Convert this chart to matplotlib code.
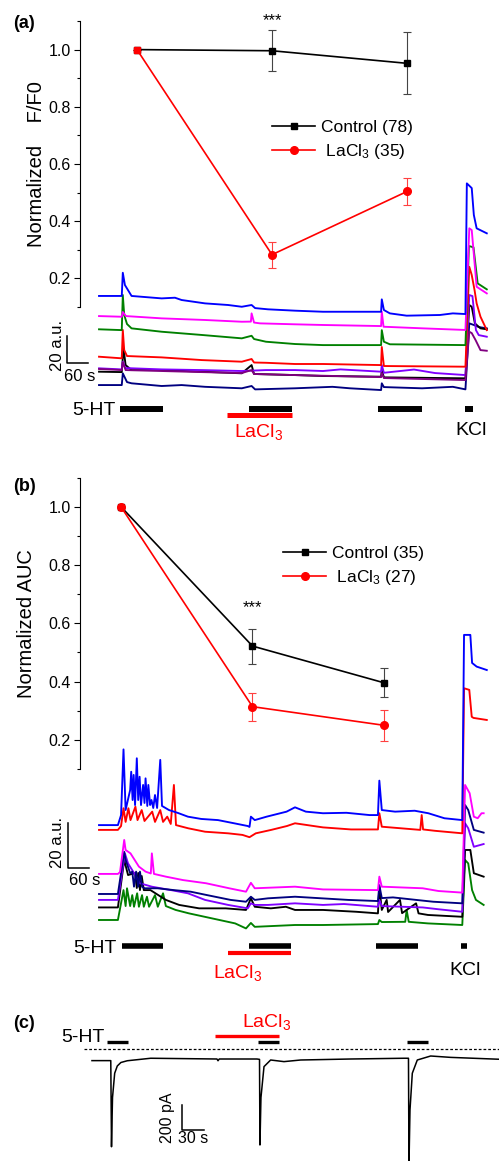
import numpy as np
import matplotlib.pyplot as plt
from matplotlib.ticker import FormatStrFormatter

plt.rcParams['font.family'] = ['Liberation Sans', 'DejaVu Sans']
plt.rcParams['mathtext.fontset'] = 'custom'
plt.rcParams['mathtext.rm'] = 'Liberation Sans'
plt.rcParams['mathtext.default'] = 'regular'

W, H = 499, 1161

# ---- summary data (normalized response for the 3 5-HT applications)
stim = [1, 2, 3]
a_ctrl = [1.0, 0.996, 0.952]
a_ctrl_err = [0, 0.072, 0.108]
a_lacl = [1.0, 0.283, 0.504]
a_lacl_err = [0, 0.045, 0.046]
b_ctrl = [1.0, 0.522, 0.396]
b_ctrl_err = [0, 0.060, 0.050]
b_lacl = [1.0, 0.314, 0.250]
b_lacl_err = [0, 0.048, 0.054]

# ---- example Ca2+ traces (time s, a.u.), panel a
a_blue = [(0, 73.4), (65, 73.4), (68, 90.6), (74, 81.5), (93, 73.4), (179, 71.6), (217, 72.1), (236, 70.4),
          (303, 67.9), (369, 66.7), (408, 65.4), (436, 66.7), (446, 64.4), (483, 63.5), (560, 62.5), (640, 61.7),
          (806, 61.7), (808, 70.9), (814, 63.0), (831, 60.5), (879, 58.8), (974, 59.3), (1011, 60.5), (1047, 60.0),
          (1051, 156.8), (1065, 153.3), (1071, 133.4), (1079, 123.5), (1108, 119.8)]
a_magenta = [(0, 58.5), (65, 58.0), (68, 61.5), (77, 58.5), (179, 56.8), (303, 55.6), (408, 54.3), (434, 54.4),
             (436, 60.5), (443, 53.7), (460, 53.1), (560, 52.4), (640, 51.9), (806, 51.1), (808, 61.7), (813, 50.6),
             (926, 49.4), (1047, 48.2), (1058, 123.5), (1065, 122.2), (1079, 80.2), (1108, 75.3)]
a_green = [(0, 48.7), (65, 48.1), (68, 74.1), (72, 59.3), (80, 52.6), (93, 49.4), (179, 46.9), (294, 44.5),
           (408, 42.0), (436, 43.9), (443, 41.5), (477, 39.5), (560, 37.8), (640, 37.0), (806, 37.0), (808, 48.1),
           (814, 39.5), (831, 37.6), (1047, 37.0), (1057, 110.4), (1070, 109.4), (1082, 82.7), (1108, 78.3)]
a_red = [(0, 28.4), (65, 27.2), (68, 48.2), (72, 33.3), (80, 28.9), (179, 27.9), (294, 25.9), (408, 24.7),
         (436, 26.7), (443, 24.1), (477, 23.9), (560, 23.0), (640, 23.0), (806, 22.2), (808, 35.6), (814, 21.5),
         (1047, 21.0), (1058, 95.0), (1065, 88.9), (1073, 77.8), (1079, 67.9), (1090, 58.0), (1108, 48.1)]
a_violet = [(0, 19.8), (65, 19.0), (68, 24.7), (75, 20.0), (179, 19.0), (294, 18.5), (408, 17.8), (477, 18.5),
            (560, 18.5), (640, 17.8), (690, 19.0), (806, 17.3), (808, 22.2), (814, 16.5), (900, 18.9), (960, 16.3),
            (1047, 14.8), (1058, 74.1), (1067, 73.3), (1077, 48.1), (1085, 44.4), (1108, 43.2)]
a_black = [(0, 17.3), (65, 17.0), (70, 34.6), (76, 22.2), (93, 18.5), (179, 18.5), (294, 17.3), (408, 16.1),
           (436, 22.2), (443, 15.6), (560, 14.8), (640, 14.1), (806, 13.6), (808, 18.5), (814, 13.1), (1047, 12.4),
           (1058, 66.7), (1065, 65.4), (1074, 53.1), (1090, 49.4), (1108, 48.7)]
a_purple = [(0, 19.3), (65, 18.5), (68, 24.4), (76, 18.5), (179, 17.8), (294, 17.0), (408, 16.3), (436, 18.5),
            (443, 15.6), (560, 14.8), (806, 13.3), (808, 16.3), (814, 12.6), (1047, 11.1), (1058, 46.9),
            (1065, 45.9), (1076, 40.7), (1090, 33.3), (1108, 32.8)]
a_navy = [(0, 7.4), (65, 7.4), (68, 16.1), (80, 9.6), (93, 8.7), (179, 6.7), (236, 7.4), (303, 6.1), (408, 5.0),
          (436, 6.7), (446, 4.2), (560, 5.0), (667, 6.1), (717, 5.0), (806, 3.7), (808, 8.7), (814, 5.9),
          (923, 5.0), (1011, 6.1), (1047, 4.2), (1058, 53.1), (1071, 51.9), (1085, 50.4), (1108, 49.4)]

# ---- panel b traces
b_blue = [(0, 48.2), (54, 48.2), (63, 52.6), (70, 81.4), (76, 54.8), (89, 63.6), (92, 71.6), (96, 59.2),
          (99, 70.2), (103, 57.0), (108, 77.5), (112, 59.2), (116, 69.4), (120, 57.0), (126, 65.8), (130, 57.9),
          (133, 68.7), (138, 56.6), (141, 65.8), (146, 57.0), (150, 59.2), (155, 55.7), (160, 61.4), (166, 55.7),
          (175, 76.8), (180, 56.6), (200, 54.8), (226, 53.5), (254, 51.9), (292, 50.9), (340, 50.4), (386, 49.0),
          (425, 47.8), (430, 47.4), (434, 51.9), (445, 50.4), (479, 51.9), (536, 54.1), (560, 56.0), (591, 54.1),
          (640, 53.4), (707, 53.6), (773, 52.6), (797, 52.6), (801, 67.7), (808, 54.8), (846, 54.1), (902, 54.5),
          (941, 53.4), (987, 51.2), (1038, 50.4), (1043, 131.6), (1061, 131.6), (1066, 119.3), (1079, 117.7),
          (1108, 116.2)]
b_red = [(0, 46.1), (54, 46.1), (63, 47.8), (70, 55.6), (76, 49.6), (84, 55.6), (90, 50.4), (104, 56.3),
         (110, 50.4), (122, 54.8), (130, 50.0), (152, 54.1), (160, 49.6), (175, 54.8), (183, 49.6), (195, 51.9),
         (205, 48.7), (214, 65.8), (220, 48.2), (255, 46.8), (303, 45.3), (369, 44.6), (410, 43.9), (430, 42.9),
         (448, 44.6), (492, 46.1), (537, 47.8), (560, 49.0), (613, 47.8), (640, 47.2), (720, 46.3), (797, 46.3),
         (801, 53.4), (808, 47.5), (918, 46.1), (922, 52.6), (926, 46.3), (960, 45.7), (1038, 44.6),
         (1043, 108.2), (1058, 107.5), (1065, 95.7), (1070, 95.2), (1108, 94.3)]
b_magenta = [(0, 26.8), (54, 26.8), (60, 27.6), (72, 41.7), (76, 37.3), (90, 35.8), (114, 30.0), (133, 27.8),
             (148, 27.0), (151, 35.8), (157, 26.8), (191, 25.6), (240, 24.1), (306, 22.7), (372, 20.5), (420, 19.0),
             (434, 22.9), (445, 20.5), (560, 21.2), (640, 20.0), (797, 19.7), (801, 25.6), (808, 21.2), (925, 20.5),
             (970, 19.3), (1038, 18.6), (1046, 65.8), (1059, 62.2), (1071, 51.9), (1082, 51.2), (1093, 53.4),
             (1099, 53.4)]
b_navy = [(0, 18.0), (54, 18.0), (72, 36.5), (76, 32.9), (89, 27.1), (95, 27.8), (100, 21.2), (106, 27.8),
          (112, 21.2), (117, 27.8), (123, 21.2), (130, 20.5), (167, 20.5), (214, 19.7), (262, 19.0), (309, 17.5),
          (376, 15.4), (420, 14.6), (434, 16.8), (445, 15.4), (483, 16.1), (560, 16.8), (636, 16.1), (712, 15.4),
          (797, 14.9), (801, 21.9), (808, 16.2), (840, 16.5), (906, 15.4), (955, 14.6), (1038, 13.9), (1046, 57.0),
          (1055, 54.8), (1071, 46.1), (1099, 44.9)]
b_violet = [(0, 15.4), (54, 15.4), (74, 35.8), (83, 31.4), (100, 27.2), (117, 22.7), (151, 21.2), (206, 19.7),
            (254, 18.3), (303, 15.4), (369, 13.2), (425, 11.7), (434, 13.9), (445, 13.2), (483, 13.2), (560, 13.9),
            (640, 13.2), (700, 13.6), (797, 12.4), (801, 15.4), (808, 12.7), (925, 12.1), (970, 11.3), (1038, 10.2),
            (1046, 49.0), (1055, 46.8), (1071, 38.7), (1099, 39.9)]
b_black = [(0, 12.1), (54, 12.1), (72, 32.9), (83, 26.3), (103, 27.2), (108, 20.6), (112, 27.2), (117, 19.7),
           (122, 25.9), (128, 19.7), (147, 19.7), (191, 15.4), (229, 13.2), (286, 11.7), (362, 11.7), (420, 11.0),
           (434, 16.1), (445, 12.4), (491, 11.7), (534, 12.4), (560, 11.0), (640, 11.0), (735, 10.2), (797, 9.5),
           (801, 21.2), (808, 11.0), (822, 15.4), (826, 10.1), (860, 15.4), (866, 9.6), (906, 13.9), (913, 9.5),
           (940, 8.8), (1038, 8.0), (1046, 37.3), (1061, 37.3), (1071, 27.1), (1099, 25.6)]
b_green = [(0, 6.6), (54, 6.6), (70, 19.7), (76, 12.7), (80, 20.5), (89, 12.7), (95, 17.5), (100, 12.4),
           (109, 18.3), (114, 12.4), (123, 17.5), (128, 12.4), (137, 16.8), (143, 12.4), (160, 17.5), (168, 12.4),
           (183, 18.3), (191, 12.7), (219, 11.0), (257, 9.5), (323, 7.3), (389, 5.1), (420, 2.9), (434, 5.3),
           (445, 3.6), (560, 4.4), (640, 4.4), (797, 4.8), (801, 6.6), (808, 5.7), (875, 5.8), (879, 11.0),
           (885, 5.8), (940, 5.1), (1038, 4.4), (1046, 32.9), (1055, 31.4), (1066, 19.7), (1077, 15.4),
           (1099, 13.2)]

# ---- panel c whole-cell current (time s, pA)
c_current = [(0, -5), (26, -5), (27, -694), (28.4, -300), (31.4, -106), (35, -48), (40, -20), (48.8, -6),
             (81.2, 14), (172.9, 8), (174.3, -6), (176, 8), (228.2, 8), (231.7, 5), (232.3, -680), (233.7, -300),
             (237.9, -53), (247.1, 0), (265.5, -13), (288.6, 0), (357.8, 8), (431.5, 14), (437.7, 14),
             (438.4, -840), (439.8, -400), (443, -106), (449.9, 0), (468.4, 32), (496, 21), (562.9, 6)]

# drug applications (start, end) in s
a_5ht = [(60, 182), (429, 552), (798, 922)]
a_kcl = (1046, 1069)
a_lacl_on = (367, 552)
b_5ht = [(66, 183), (429, 549), (791, 911)]
b_kcl = (1034, 1051)
b_lacl_on = (369, 549)
c_5ht = [(20.7, 49.8), (229.6, 258.6), (435.6, 464.7)]
c_lacl_on = (170, 258.6)

fig = plt.figure(figsize=(W / 100, H / 100), dpi=100)


def px_axes(x0, y0, x1, y1):
    ax = fig.add_axes([x0 / W, 1 - y1 / H, (x1 - x0) / W, (y1 - y0) / H])
    ax.patch.set_alpha(0)
    return ax


def summary(ax, ctrl, ctrl_err, lacl, lacl_err, labels, first_red, legend_xy, star_y):
    ax.errorbar(stim, ctrl, yerr=ctrl_err, fmt='none', ecolor='#444444', elinewidth=0.8,
                capsize=2.8, capthick=0.8, zorder=2)
    ax.errorbar(stim, lacl, yerr=lacl_err, fmt='none', ecolor='#ff4040', elinewidth=0.8,
                capsize=2.8, capthick=0.8, zorder=2)
    ax.plot(stim, ctrl, color='k', lw=1.2, marker='s', ms=4.5, label=labels[0], zorder=3)
    ax.plot(stim, lacl, color='r', lw=1.2, marker='o', ms=5.5, markevery=[1, 2], zorder=4)
    ax.plot(stim[0], lacl[0], color='r', lw=1.2, marker=first_red, ms=4.5 if first_red == 's' else 5.5,
            zorder=5)
    ax.plot([], [], color='r', lw=1.2, marker='o', ms=5.5, label=labels[1])
    ax.set_ylim(0.1, 1.1)
    ax.set_yticks([0.2, 0.4, 0.6, 0.8, 1.0])
    ax.set_yticks([0.1, 0.3, 0.5, 0.7, 0.9, 1.1], minor=True)
    ax.yaxis.set_major_formatter(FormatStrFormatter('%.1f'))
    ax.tick_params(axis='y', which='major', length=4, width=0.8, labelsize=11.5, pad=2.5)
    ax.tick_params(axis='y', which='minor', length=2.5, width=0.8)
    for s in ['top', 'right', 'bottom']:
        ax.spines[s].set_visible(False)
    ax.spines['left'].set_linewidth(0.8)
    ax.xaxis.set_visible(False)
    ax.legend(loc='upper left', bbox_to_anchor=(legend_xy[0] / W, 1 - legend_xy[1] / H),
              bbox_transform=fig.transFigure, frameon=False, fontsize=12.5, handlelength=2.5,
              handletextpad=0.3, borderpad=0, borderaxespad=0, labelspacing=0.42)
    ax.text(2, star_y, '***', ha='center', va='center', fontsize=12)


def traces(ax, data, colors):
    for tr, c in zip(data, colors):
        t, v = zip(*tr)
        ax.plot(t, v, color=c, lw=1.35)
    ax.axis('off')


def bar(ax, span, y, color, lw):
    ax.plot(span, [y, y], color=color, lw=lw, solid_capstyle='butt', clip_on=False)


# ---------------- panel a
ax_a = px_axes(80, 21, 499, 307)
ax_a.set_xlim(0.578, 3.681)
summary(ax_a, a_ctrl, a_ctrl_err, a_lacl, a_lacl_err, ['Control (78)', ' LaCl$_3$ (35)'], 's',
        (272, 120), 1.10)
ax_a.text(-0.105, 0.5, 'Normalized    F/F0', transform=ax_a.transAxes, rotation=90,
          ha='center', va='center', fontsize=14.5)

tr_a = px_axes(0, 170, 499, 445)
tr_a.set_xlim(-282.9, 1142.9)
tr_a.set_ylim(-37.0, 166.7)
traces(tr_a, [a_navy, a_black, a_violet, a_purple, a_red, a_green, a_magenta, a_blue],
       ['#000080', 'k', '#8000ff', '#800080', 'r', '#008000', '#ff00ff', '#0000ff'])
for sp in a_5ht + [a_kcl]:
    bar(tr_a, sp, -10.1, 'k', 4.3)
bar(tr_a, a_lacl_on, -14.8, 'r', 3.6)
tr_a.plot([-91.4, -91.4, -31.4], [43.5, 23.5, 23.5], color='k', lw=1.1, clip_on=False)
tr_a.text(-120, 37, '20 a.u.', rotation=90, ha='center', va='center', fontsize=12)
tr_a.text(-54, 13.6, '60 s', ha='center', va='center', fontsize=12)
tr_a.text(48.6, -11.1, '5-HT', ha='right', va='center', fontsize=14)
tr_a.text(457, -27.5, 'LaCl$_3$', ha='center', va='center', fontsize=14, color='r')
tr_a.text(1063, -26.5, 'KCl', ha='center', va='center', fontsize=14)

# ---------------- panel b
ax_b = px_axes(80, 477.7, 499, 769)
ax_b.set_xlim(0.688, 3.875)
summary(ax_b, b_ctrl, b_ctrl_err, b_lacl, b_lacl_err, ['Control (35)', ' LaCl$_3$ (27)'], 'o',
        (283, 546), 0.655)
ax_b.text(-0.128, 0.5, 'Normalized AUC', transform=ax_b.transAxes, rotation=90,
          ha='center', va='center', fontsize=14.5)

tr_b = px_axes(0, 600, 499, 990)
tr_b.set_xlim(-282.9, 1142.9)
tr_b.set_ylim(-24.1, 146.9)
traces(tr_b, [b_green, b_black, b_violet, b_navy, b_magenta, b_red, b_blue],
       ['#008000', 'k', '#8000ff', '#000080', '#ff00ff', 'r', '#0000ff'])
for sp in b_5ht + [b_kcl]:
    bar(tr_b, sp, -4.8, 'k', 4.0)
bar(tr_b, b_lacl_on, -7.8, 'r', 3.0)
tr_b.plot([-87.7, -87.7, -27.7], [49.3, 29.3, 29.3], color='k', lw=1.1, clip_on=False)
tr_b.text(-120, 40.4, '20 a.u.', rotation=90, ha='center', va='center', fontsize=12)
tr_b.text(-41, 24.1, '60 s', ha='center', va='center', fontsize=12)
tr_b.text(50.5, -5.8, '5-HT', ha='right', va='center', fontsize=14)
tr_b.text(397, -16.5, 'LaCl$_3$', ha='center', va='center', fontsize=14, color='r')
tr_b.text(1045, -15.4, 'KCl', ha='center', va='center', fontsize=14)

# ---------------- panel c
tr_c = px_axes(0, 1000, 499, 1180)
tr_c.set_xlim(-127.2, 562.9)
tr_c.set_ylim(-960, 480)
t, v = zip(*c_current)
tr_c.plot(t, v, color='k', lw=1.1)
tr_c.plot([-11.1, 562.9], [88, 88], color='k', lw=0.9, ls=(0, (2.2, 1.6)))
for sp in c_5ht:
    bar(tr_c, sp, 141.6, 'k', 2.4)
bar(tr_c, c_lacl_on, 194, 'r', 2.4)
tr_c.plot([124.9, 124.9, 154.9], [-360, -560, -560], color='k', lw=1.1)
tr_c.text(104.8, -460, '200 pA', rotation=90, ha='center', va='center', fontsize=11.5)
tr_c.text(139.8, -627, '30 s', ha='center', va='center', fontsize=11.5)
tr_c.text(18, 176, '5-HT', ha='right', va='center', fontsize=14)
tr_c.text(241, 300, 'LaCl$_3$', ha='center', va='center', fontsize=14, color='r')
tr_c.axis('off')

for lab, y in [('(a)', 23), ('(b)', 486.5), ('(c)', 1023.5)]:
    fig.text(24 / W, 1 - y / H, lab, ha='center', va='center', fontsize=13, fontweight='bold')

fig.savefig('out.png', dpi=100)
